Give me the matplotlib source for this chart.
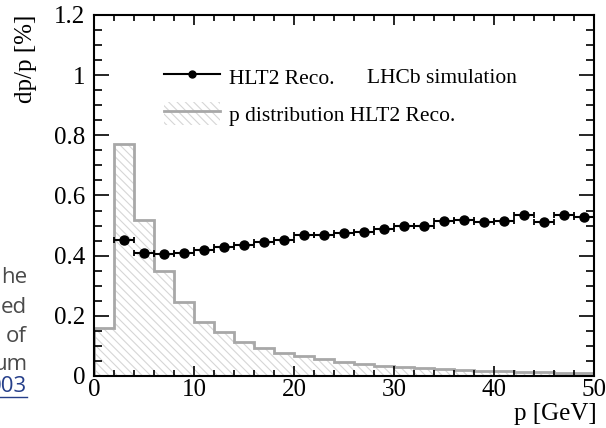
import numpy as np
import matplotlib
matplotlib.use("Agg")
import matplotlib.pyplot as plt
from matplotlib.lines import Line2D
from matplotlib.patches import Rectangle
from matplotlib.ticker import MultipleLocator

# p distribution of HLT2 reconstructed tracks (2 GeV bins, arbitrary scale)
bin_edges = np.arange(0, 52, 2)
hist_vals = [0.16, 0.77, 0.52, 0.35, 0.245, 0.18, 0.145, 0.113, 0.093, 0.077,
             0.066, 0.055, 0.046, 0.040, 0.034, 0.030, 0.026, 0.022, 0.019,
             0.017, 0.015, 0.013, 0.012, 0.011, 0.010]

# momentum resolution dp/p [%] per bin, starting from the 2-4 GeV bin
p_centers = np.arange(3, 51, 2)
p_halfwidth = 1.0
dpp_vals = [0.453, 0.409, 0.407, 0.410, 0.420, 0.428, 0.434, 0.447, 0.453,
            0.468, 0.468, 0.475, 0.479, 0.490, 0.498, 0.497, 0.516, 0.519,
            0.513, 0.516, 0.535, 0.513, 0.535, 0.530]

# surrounding page text that sits left of the figure
side_lines = ["he", "ed", "of", "um"]
side_link = "003"

serif = "Liberation Serif"
plt.rcParams["font.family"] = serif
plt.rcParams["hatch.linewidth"] = 0.8

fig = plt.figure(figsize=(6.06, 4.28), dpi=100)
ax = fig.add_axes([0.155, 0.1215, 0.826, 0.8435])

# histogram: hatched fill + grey outline
ax.stairs(hist_vals, bin_edges, fill=True, facecolor="none",
          edgecolor="#d6d6d6", hatch="\\\\\\\\", linewidth=0)
ax.stairs(hist_vals, bin_edges, fill=False, edgecolor="#a8a8a8", linewidth=2)

# resolution points
ax.errorbar(p_centers, dpp_vals, xerr=p_halfwidth, fmt="o", color="black",
            markersize=6.5, elinewidth=1.5, capsize=2.5, capthick=1.3)

ax.set_xlim(0, 50)
ax.set_ylim(0, 1.2)
ax.xaxis.set_major_locator(MultipleLocator(10))
ax.xaxis.set_minor_locator(MultipleLocator(2))
ax.yaxis.set_minor_locator(MultipleLocator(0.05))
ax.set_yticks([0, 0.2, 0.4, 0.6, 0.8, 1.0, 1.2])
ax.set_yticklabels(["0", "0.2", "0.4", "0.6", "0.8", "1", "1.2"])

for s in ax.spines.values():
    s.set_linewidth(1.5)
ax.tick_params(which="both", direction="in", top=True, right=True,
               labelsize=18, width=1.2)
ax.tick_params(axis="y", which="major", length=11, pad=6)
ax.tick_params(axis="y", which="minor", length=5.5)
ax.tick_params(axis="x", which="major", length=7, pad=2)
ax.tick_params(axis="x", which="minor", length=4.5)

ax.set_ylabel("dp/p [%]", fontsize=18, loc="top")
ax.yaxis.set_label_coords(-0.114, 1.0)
ax.set_xlabel("p [GeV]", fontsize=18, loc="right")
ax.xaxis.set_label_coords(1.005, -0.076)
ax.xaxis.label.set_ha("right")

# legend
h_pts = Line2D([], [], color="black", marker="o", markersize=5, linewidth=1.5)
h_box = Rectangle((0, 0), 1, 1, facecolor="none", edgecolor="#d6d6d6",
                  hatch="\\\\\\\\", linewidth=0)
h_line = Line2D([], [], color="#a8a8a8", linewidth=2)
ax.legend([h_pts, (h_box, h_line)], ["HLT2 Reco.", "p distribution HLT2 Reco."],
          loc="upper left", bbox_to_anchor=(0.118, 0.892), frameon=False,
          fontsize=15.5, handlelength=2.6, handleheight=1.3,
          handletextpad=0.45, labelspacing=0.6, borderpad=0)

ax.text(0.546, 0.825, "LHCb simulation", transform=ax.transAxes,
        fontsize=15.5, va="center", ha="left")

# left page text fragments
base_y = [283, 313, 342, 370]
for txt, yp in zip(side_lines, base_y):
    fig.text(27 / 606, 1 - yp / 428, txt, fontsize=16, family="Open Sans",
             color="#4a4a4a", ha="right", va="baseline")
fig.text(27 / 606, 1 - 392 / 428, side_link, fontsize=16, family="Open Sans",
         color="#263f8a", ha="right", va="baseline")
fig.add_artist(Line2D([0, 27 / 606], [1 - 397 / 428, 1 - 397 / 428],
                      color="#263f8a", linewidth=1))

fig.savefig("out.png", dpi=100)
